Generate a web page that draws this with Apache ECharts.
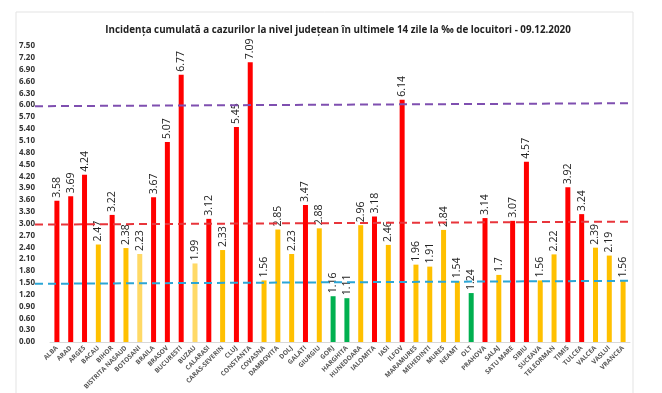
<!DOCTYPE html>
<html><head><meta charset="utf-8">
<script src="https://cdn.jsdelivr.net/npm/echarts@6/dist/echarts.min.js"></script>
<style>html,body{margin:0;padding:0;background:#fff}#c{width:662px;height:393px}</style>
</head><body><div id="c"></div>
<script>
const titleText = 'Incidența cumulată a cazurilor la nivel județean în ultimele 14 zile la ‰ de locuitori - 09.12.2020';
const categories = ['ALBA','ARAD','ARGES','BACAU','BIHOR','BISTRITA NASAUD','BOTOSANI','BRAILA','BRASOV','BUCURESTI','BUZAU','CALARASI','CARAS-SEVERIN','CLUJ','CONSTANTA','COVASNA','DAMBOVITA','DOLJ','GALATI','GIURGIU','GORJ','HARGHITA','HUNEDOARA','IALOMITA','IASI','ILFOV','MARAMURES','MEHEDINTI','MURES','NEAMT','OLT','PRAHOVA','SALAJ','SATU MARE','SIBIU','SUCEAVA','TELEORMAN','TIMIS','TULCEA','VALCEA','VASLUI','VRANCEA'];
const values = [3.58,3.69,4.24,2.47,3.22,2.38,2.23,3.67,5.07,6.77,1.99,3.12,2.33,5.45,7.09,1.56,2.85,2.23,3.47,2.88,1.16,1.11,2.96,3.18,2.46,6.14,1.96,1.91,2.84,1.54,1.24,3.14,1.7,3.07,4.57,1.56,2.22,3.92,3.24,2.39,2.19,1.56];
const thresholds = [6.0, 3.0, 1.5];
const yMin = 0, yMax = 7.5, yStep = 0.3;

const lightYellow = ['BOTOSANI','BUZAU'];
function barColor(v, name) {
  if (v > 3) return '#ff0000';
  if (v < 1.5) return '#00b050';
  return lightYellow.indexOf(name) >= 0 ? '#ffd966' : '#ffc000';
}
const lineColors = ['#7f4fb0', '#e8353b', '#2ca6d6'];

const chart = echarts.init(document.getElementById('c'));
chart.setOption({
  animation: false,
  title: {text: titleText, left: 333, top: 20, textAlign: 'center',
    textStyle: {fontFamily: 'Open Sans', fontSize: 9.8, fontWeight: 'bold', color: '#222'}},
  grid: {left: 50, right: 32, top: 46, bottom: 51},
  xAxis: {type: 'category', data: categories,
    axisLine: {lineStyle: {color: '#d9d9d9'}}, axisTick: {show: false},
    axisLabel: {rotate: 45, interval: 0, fontSize: 6.5, fontWeight: 'bold', color: '#555', fontFamily: 'Open Sans', margin: 5}},
  yAxis: {type: 'value', min: yMin, max: yMax, interval: yStep,
    splitLine: {show: false}, axisLine: {show: false}, axisTick: {show: false},
    axisLabel: {formatter: v => v.toFixed(2), fontSize: 8, color: '#333', fontWeight: 'bold', fontFamily: 'Open Sans', margin: 15}},
  series: [{
    type: 'bar', barWidth: 5,
    data: values.map((v, i) => ({value: v, itemStyle: {color: barColor(v, categories[i])}})),
    label: {show: true, position: 'top', rotate: 90, align: 'left', verticalAlign: 'middle', distance: 3,
      fontSize: 10.5, color: '#222', fontFamily: 'Open Sans', formatter: p => String(p.value)}
  }]
});
// threshold lines positioned through the library's y scale, extended across the frame
const gfx = [{type:'rect', shape:{x:16,y:12,width:617,height:390}, style:{fill:'none', stroke:'#e3e3e3', lineWidth:1}, silent:true, z: 0}];
thresholds.forEach((t, i) => {
  const y = chart.convertToPixel({yAxisIndex: 0}, t);
  gfx.push({type: 'line', silent: true, z: 10,
    shape: {x1: 35, y1: y + 1, x2: 633, y2: y - 2},
    style: {stroke: lineColors[i], lineWidth: 2, lineDash: [8, 5]}});
});
chart.setOption({graphic: gfx});
</script></body></html>
